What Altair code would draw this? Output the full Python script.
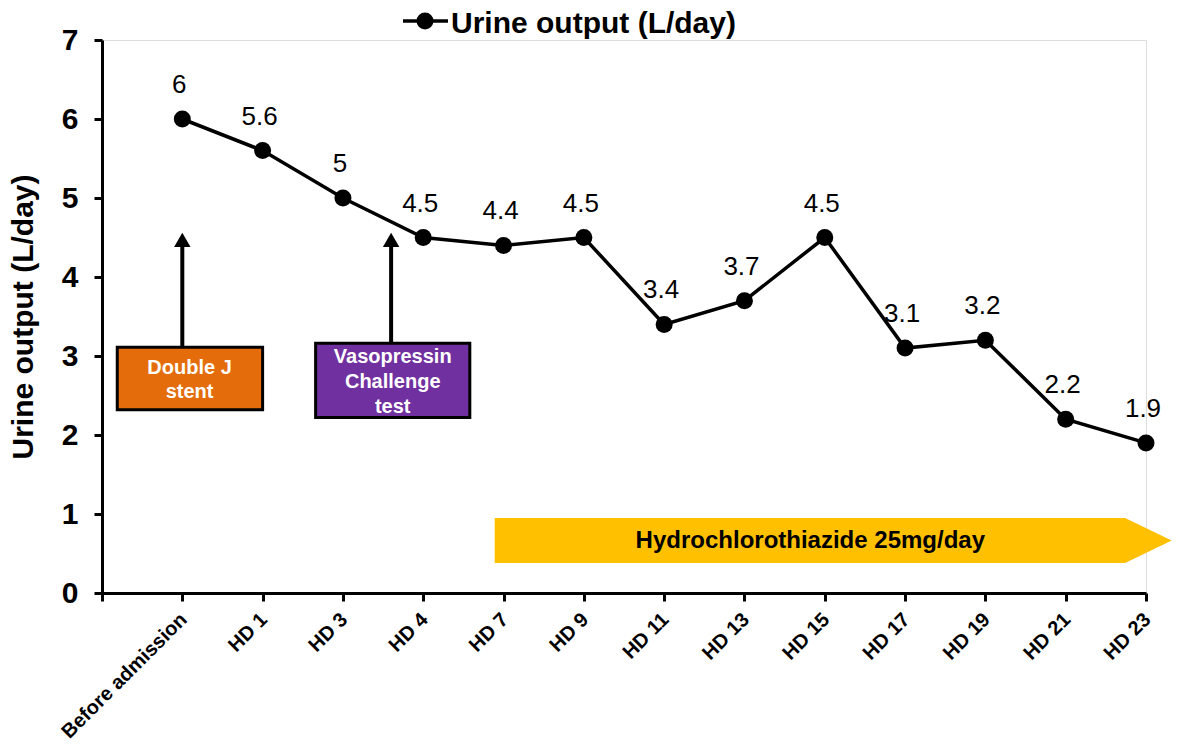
import json
import altair as alt
import pandas as pd

# ---------------- data ----------------
categories = ["Before admission", "HD 1", "HD 3", "HD 4", "HD 7", "HD 9", "HD 11",
              "HD 13", "HD 15", "HD 17", "HD 19", "HD 21", "HD 23"]
urine_output = [6, 5.6, 5, 4.5, 4.4, 4.5, 3.4, 3.7, 4.5, 3.1, 3.2, 2.2, 1.9]
value_labels = ["6", "5.6", "5", "4.5", "4.4", "4.5", "3.4", "3.7", "4.5", "3.1", "3.2", "2.2", "1.9"]
y_ticks = [0, 1, 2, 3, 4, 5, 6, 7]
series_name = "Urine output (L/day)"

FONT = "Liberation Sans"

df = pd.DataFrame({
    "idx": list(range(len(categories))),
    "cat": categories,
    "value": urine_output,
    "label": value_labels,
})

label_expr = "datum.value < 0 ? '' : " + json.dumps(categories) + "[datum.value]"

xscale = alt.Scale(domain=[-1, len(categories) - 1], nice=False, zero=False)
yscale = alt.Scale(domain=[0, 7], nice=False, zero=True)

x_axis = alt.Axis(values=list(range(-1, len(categories))), labelExpr=label_expr,
                  labelAngle=-45, labelFont=FONT, labelFontSize=20, labelFontWeight="bold",
                  labelColor="black", labelPadding=8, labelOffset=-6, labelLimit=0,
                  tickSize=8, tickWidth=3,
                  tickColor="black", domainColor="black", domainWidth=3, grid=False, title=None,
                  labelOverlap=False)
y_axis = alt.Axis(values=y_ticks, format="d", labelFont=FONT, labelFontSize=30, labelFontWeight="bold",
                  labelColor="black", labelPadding=16, tickSize=8, tickWidth=3, tickColor="black",
                  domainColor="black", domainWidth=3, grid=False,
                  title=series_name, titleFont=FONT, titleFontSize=30, titleFontWeight="bold",
                  titleColor="black", titlePadding=23)

base = alt.Chart(df)

line = base.mark_line(color="black", strokeWidth=3.5).encode(
    x=alt.X("idx:Q", scale=xscale, axis=x_axis),
    y=alt.Y("value:Q", scale=yscale, axis=y_axis),
)
pts = base.mark_circle(color="black", opacity=1, size=289).encode(
    x=alt.X("idx:Q", scale=xscale), y=alt.Y("value:Q", scale=yscale))
lbl = base.mark_text(font=FONT, fontSize=26, color="black", dy=-34, dx=-3,
                     baseline="middle").encode(
    x=alt.X("idx:Q", scale=xscale), y=alt.Y("value:Q", scale=yscale), text="label:N")

# ---------------- annotations ----------------
boxes = pd.DataFrame({
    "x1": [-0.81, 1.66], "x2": [1.0, 3.58],
    "y1": [2.32, 2.22], "y2": [3.11, 3.16],
    "fill": ["#E46C0A", "#7030A0"],
})
box_lines = pd.DataFrame({
    "tx": [0.09, 0.09, 2.62, 2.62, 2.62],
    "ty": [2.85, 2.54, 2.99, 2.67, 2.35],
    "txt": ["Double J", "stent", "Vasopressin", "Challenge", "test"],
})
box_marks = alt.Chart(boxes).mark_rect(stroke="black", strokeWidth=3).encode(
    x=alt.X("x1:Q", scale=xscale), x2="x2:Q",
    y=alt.Y("y1:Q", scale=yscale), y2="y2:Q",
    fill=alt.Fill("fill:N", scale=None))
box_text = alt.Chart(box_lines).mark_text(font=FONT, fontSize=20, fontWeight="bold", color="white",
                                          baseline="middle").encode(
    x=alt.X("tx:Q", scale=xscale), y=alt.Y("ty:Q", scale=yscale), text="txt:N")

arrows = pd.DataFrame({"ax": [0.0, 2.6], "ybot": [3.11, 3.16], "ytop": [4.4, 4.4], "yhead": [4.47, 4.47]})
shafts = alt.Chart(arrows).mark_rule(color="black", strokeWidth=4).encode(
    x=alt.X("ax:Q", scale=xscale), y=alt.Y("ybot:Q", scale=yscale), y2="ytop:Q")
heads = alt.Chart(arrows).mark_point(shape="triangle-up", filled=True, color="black",
                                     opacity=1, size=270).encode(
    x=alt.X("ax:Q", scale=xscale), y=alt.Y("yhead:Q", scale=yscale))

hct = pd.DataFrame({"hx": [3.89, 11.74, 12.32], "hy": [0.38, 0.38, 0.665], "hy2": [0.95, 0.95, 0.665]})
hct_arrow = alt.Chart(hct).mark_area(color="#FFC000", opacity=1).encode(
    x=alt.X("hx:Q", scale=xscale), y=alt.Y("hy:Q", scale=yscale), y2="hy2:Q")
hct_text = alt.Chart(pd.DataFrame({"tx": [7.82], "ty": [0.66],
                                   "t": ["Hydrochlorothiazide 25mg/day"]})).mark_text(
    font=FONT, fontSize=24, fontWeight="bold", color="black", baseline="middle").encode(
    x=alt.X("tx:Q", scale=xscale), y=alt.Y("ty:Q", scale=yscale), text="t:N")

# ---------------- manual legend ----------------
leg_df = pd.DataFrame({"name": [series_name]})
leg_line = alt.Chart(leg_df).mark_rule(color="black", strokeWidth=3.5).encode(
    x=alt.value(301), x2=alt.value(346), y=alt.value(-19))
leg_pt = alt.Chart(leg_df).mark_circle(color="black", opacity=1, size=289).encode(
    x=alt.value(323), y=alt.value(-19))
leg_txt = alt.Chart(leg_df).mark_text(font=FONT, fontSize=30, fontWeight="bold", color="black",
                                      align="left", baseline="middle").encode(
    x=alt.value(349), y=alt.value(-16), text="name:N")

chart = alt.layer(
    hct_arrow, hct_text, shafts, heads, box_marks, box_text, line, pts, lbl,
    leg_line, leg_pt, leg_txt
).properties(
    width=1044, height=553,
    autosize=alt.AutoSizeParams(type="none"),
    padding={"left": 94, "top": 32, "right": 26, "bottom": 155},
).configure_view(stroke=None).configure(background="white")

chart.save("out.html", embed_options={"renderer": "svg", "actions": False})
